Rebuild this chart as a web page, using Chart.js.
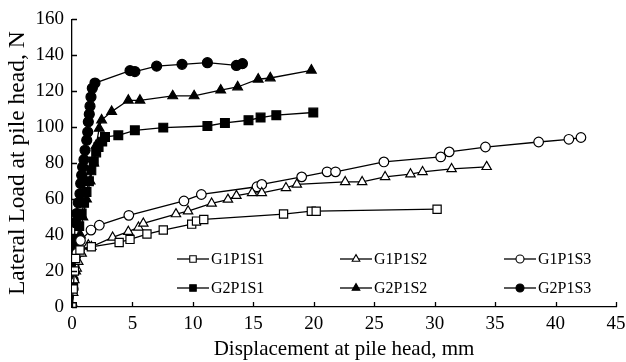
<!DOCTYPE html>
<html>
<head>
<meta charset="utf-8">
<script src="https://cdn.jsdelivr.net/npm/chart.js@4/dist/chart.umd.min.js"></script>
<style>
  html, body { margin: 0; padding: 0; background: #fff; }
  #wrap { width: 626px; height: 362px; }
</style>
</head>
<body>
<div id="wrap"><canvas id="pileChart" width="626" height="362"></canvas></div>
<script>
// displacement (mm), load (N)
const g1p1s1 = [[0,0],[0.1,10],[0.2,20],[0.3,27],[0.66,31.7],[1.6,33.5],[3.9,35.9],[4.8,37.6],[6.2,40.6],[7.55,42.8],[9.9,46.1],[10.3,47.8],[10.9,48.7],[17.5,51.7],[19.8,53.3],[20.2,53.3],[30.2,54.4]];
const g1p1s2 = [[0,0],[0.1,8],[0.2,15],[0.39,21.5],[0.52,25.2],[0.8,29.8],[1.35,34.4],[1.6,33.5],[3.36,38.7],[4.66,41.9],[5.5,44.3],[5.9,46.5],[8.6,51.7],[9.6,53.3],[11.55,57.6],[12.9,59.8],[13.6,61.9],[14.9,63.5],[15.7,63.5],[17.7,66.3],[18.6,68.2],[22.6,69.6],[24.0,69.6],[25.9,72.4],[28.0,73.9],[29.0,75.2],[31.4,76.8],[34.3,78]];
const g1p1s3 = [[0,0],[0.1,10],[0.2,20],[0.4,30],[0.7,37],[1.57,42.8],[2.26,45.5],[4.7,51],[9.26,59],[10.7,62.6],[15.3,66.9],[15.7,68.2],[19.0,72.4],[21.1,75.2],[21.8,75.2],[25.8,80.7],[30.5,83.5],[31.2,86.3],[34.2,89],[38.6,91.8],[41.1,93.3],[42.1,94.3]];
const g2p1s1 = [[0,0],[0.1,12],[0.2,22],[0.3,30],[0.4,38],[0.6,45],[0.8,52],[1.0,58],[1.2,64],[1.4,70],[1.6,76],[1.8,81],[2.0,86],[2.2,89],[2.5,92],[2.73,94.6],[3.83,95.5],[5.2,98.3],[7.55,99.8],[11.2,100.7],[12.65,102.4],[14.6,103.9],[15.6,105.4],[16.9,106.7],[19.96,108.2]];
const g2p1s2 = [[0,0],[0.3,20],[0.5,30],[0.7,40],[0.9,50],[1.2,60],[1.5,70],[1.8,80],[2.0,90],[2.25,99.4],[2.45,104],[3.28,108.7],[4.66,115],[5.62,115],[8.33,117.4],[10.1,117.4],[12.3,120.6],[13.7,122.4],[15.4,126.7],[16.4,127.4],[19.8,131.7]];
const g2p1s3 = [[0,0],[0.1,15],[0.15,25],[0.2,35],[0.25,47],[0.39,52],[0.52,58],[0.66,63],[0.72,68.7],[0.8,73.3],[0.88,77.9],[0.99,82],[1.08,87.2],[1.22,92.8],[1.3,97.4],[1.35,103],[1.43,107.2],[1.49,111.7],[1.57,116.8],[1.68,121.7],[1.9,124.6],[4.8,131.5],[5.2,131],[7.0,134],[9.1,135],[11.2,135.9],[13.6,134.4],[14.1,135.4]];

const xTicks = [0, 5, 10, 15, 20, 25, 30, 35, 40, 45];
const yTicks = [0, 20, 40, 60, 80, 100, 120, 140, 160];

const seriesNames = ["G1P1S1", "G1P1S2", "G1P1S3", "G2P1S1", "G2P1S2", "G2P1S3"];
const seriesData = [g1p1s1, g1p1s2, g1p1s3, g2p1s1, g2p1s2, g2p1s3];
const markerStyle = ["rect", "triangle", "circle", "rect", "triangle", "circle"];
const markerSize = [5.8, 5.4, 4.8, 6.2, 5.6, 5.0];
const legendSize = [4.6, 4.4, 4.0, 4.6, 4.4, 4.0];
const filled = [false, false, false, true, true, true];

const FONT = "'Liberation Serif', 'Times New Roman', serif";

const datasets = seriesData.map((pts, i) => ({
    label: seriesNames[i],
    data: pts.map(p => ({ x: p[0], y: p[1] })),
    showLine: true,
    borderColor: "#000",
    borderWidth: 1.3,
    pointStyle: markerStyle[i],
    pointRadius: markerSize[i],
    pointBackgroundColor: filled[i] ? "#000" : "#fff",
    pointBorderColor: "#000",
    pointBorderWidth: 1.2,
    tension: 0
}));

// inward tick marks on both axes
const innerTicks = {
    id: "innerTicks",
    afterDraw(chart) {
        const ctx = chart.ctx;
        const xs = chart.scales.x;
        const ys = chart.scales.y;
        ctx.save();
        ctx.strokeStyle = "#000";
        ctx.lineWidth = 1.3;
        ctx.beginPath();
        xTicks.forEach(v => {
            const px = Math.round(xs.getPixelForValue(v)) + 0.5;
            ctx.moveTo(px, ys.bottom);
            ctx.lineTo(px, ys.bottom - 5);
        });
        yTicks.forEach(v => {
            const py = Math.round(ys.getPixelForValue(v)) + 0.5;
            ctx.moveTo(xs.left, py);
            ctx.lineTo(xs.left + 5, py);
        });
        ctx.stroke();
        ctx.restore();
    }
};

// legend inside the plot, 3 columns x 2 rows
const innerLegend = {
    id: "innerLegend",
    afterDraw(chart) {
        const ctx = chart.ctx;
        const cols = [177, 340, 504];
        const rows = [259, 288];
        ctx.save();
        ctx.font = "16px " + FONT;
        ctx.textBaseline = "middle";
        ctx.fillStyle = "#000";
        seriesNames.forEach((name, i) => {
            const x0 = cols[i % 3];
            const y0 = rows[Math.floor(i / 3)];
            ctx.strokeStyle = "#000";
            ctx.lineWidth = 1.3;
            ctx.beginPath();
            ctx.moveTo(x0, y0);
            ctx.lineTo(x0 + 32, y0);
            ctx.stroke();
            ctx.fillStyle = filled[i] ? "#000" : "#fff";
            ctx.lineWidth = 1.1;
            Chart.helpers.drawPoint(ctx, {
                pointStyle: markerStyle[i],
                radius: legendSize[i],
                borderWidth: 1.1,
                rotation: 0
            }, x0 + 16, y0);
            ctx.fillStyle = "#000";
            ctx.fillText(name, x0 + 34, y0 + 1);
        });
        ctx.restore();
    }
};

new Chart(document.getElementById("pileChart"), {
    type: "scatter",
    data: { datasets: datasets },
    options: {
        responsive: false,
        animation: false,
        layout: { padding: { top: 19, right: 0, left: 0, bottom: 0 } },
        plugins: {
            legend: { display: false },
            tooltip: { enabled: false }
        },
        scales: {
            x: {
                type: "linear",
                min: 0,
                max: 45,
                afterBuildTicks: s => { s.ticks = xTicks.map(v => ({ value: v })); },
                afterFit: s => { s.height = 55; s.paddingRight = 10; },
                grid: { display: true, drawOnChartArea: false, drawTicks: false },
                border: { color: "#000", width: 1.3 },
                ticks: {
                    color: "#000",
                    padding: 6,
                    maxRotation: 0,
                    font: { family: FONT, size: 19 }
                },
                title: {
                    display: true,
                    text: "Displacement at pile head, mm",
                    color: "#000",
                    padding: { top: 0, bottom: 0 },
                    font: { family: FONT, size: 21 }
                }
            },
            y: {
                type: "linear",
                min: 0,
                max: 160,
                afterBuildTicks: s => { s.ticks = yTicks.map(v => ({ value: v })); },
                afterFit: s => { s.width = 72; },
                grid: { display: true, drawOnChartArea: false, drawTicks: false },
                border: { color: "#000", width: 1.3 },
                ticks: {
                    color: "#000",
                    padding: 8,
                    font: { family: FONT, size: 19 }
                },
                title: {
                    display: true,
                    text: "Lateral Load at pile head, N",
                    color: "#000",
                    padding: { top: 4, bottom: 0 },
                    font: { family: FONT, size: 23.5 }
                }
            }
        }
    },
    plugins: [innerTicks, innerLegend]
});
</script>
</body>
</html>
